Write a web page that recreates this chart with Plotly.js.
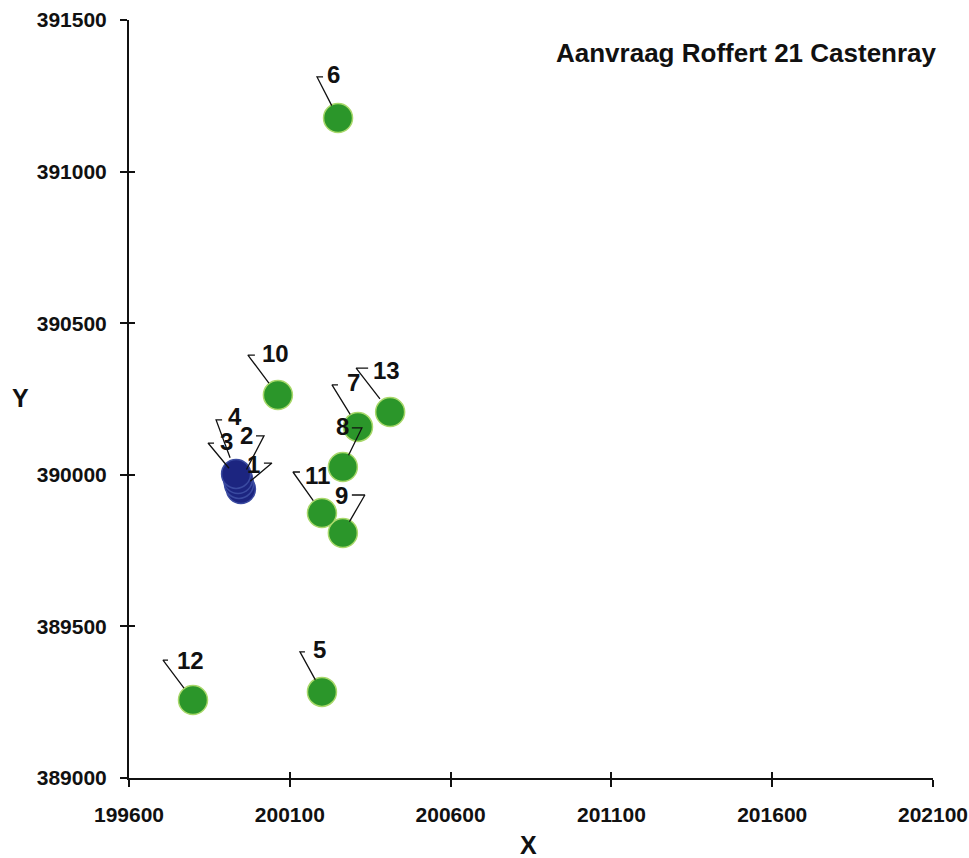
<!DOCTYPE html>
<html>
<head>
<meta charset="utf-8">
<script src="https://cdn.plot.ly/plotly-3.0.1.min.js"></script>
<style>html,body{margin:0;padding:0;background:#fff}#chart{width:969px;height:858px}</style>
</head>
<body>
<div id="chart"></div>
<script>
// ---- data ----
const pointIds = ['1','2','3','4','5','6','7','8','9','10','11','12','13'];
const xValues = [199948,199942,199939,199933,200200,200250,200312,200265,200265,200063,200200,199799,200412];
const yValues = [389953,389970,389986,390003,389284,391177,390158,390026,389808,390263,389874,389257,390207];
const pointGroup = ['blue','blue','blue','blue','green','green','green','green','green','green','green','green','green'];
const xTickVals = [199600,200100,200600,201100,201600,202100];
const yTickVals = [389000,389500,390000,390500,391000,391500];
const chartTitle = 'Aanvraag Roffert 21 Castenray';

// ---- label placement (pixels relative to point; y down) ----
// [cornerDx, cornerDy, stub, textDx, textDy, anchor]
const labelPlacement = [
  [31,-26,-8, 21,-25,'right'],
  [25,-48,-8, 16,-48,'right'],
  [-30,-36,6, -20,-38,'left'],
  [-20,-54,6, -10,-57,'left'],
  [-22,-40,5, -11,-42,'left'],
  [-21,-41,6, -13,-43,'left'],
  [-26,-42,6, -13,-44,'left'],
  [19,-39,-10, 8,-40,'right'],
  [22,-38,-13, 7,-38,'right'],
  [-30,-40,7, -18,-42,'left'],
  [-29,-41,7, -19,-38,'left'],
  [-30,-40,5, -18,-40,'left'],
  [-34,-44,12, -19,-42,'left']
];

const W = 969, H = 858;
const margin = {l:129, r:36, t:20, b:80};
const xRange = [199600, 202100];
const yRange = [389000, 391500];
const plotW = W - margin.l - margin.r, plotH = H - margin.t - margin.b;
const kx = plotW / (xRange[1]-xRange[0]);
const ky = plotH / (yRange[1]-yRange[0]);

const colors = {green:'#2b962a', blue:'#1c2580'};

// leader lines
const lx = [], ly = [];
pointIds.forEach((id,i)=>{
  const p = labelPlacement[i];
  const cx = xValues[i] + p[0]/kx, cy = yValues[i] - p[1]/ky;
  lx.push(xValues[i] + (p[0]*0.3)/kx, cx, cx + p[2]/kx, null);
  ly.push(yValues[i] - (p[1]*0.3)/ky, cy, cy, null);
});

const traces = [];
['green','blue'].forEach(g=>{
  const idx = pointIds.map((_,i)=>i).filter(i=>pointGroup[i]===g);
  traces.push({
    type:'scatter', mode:'markers', hoverinfo:'skip',
    x: idx.map(i=>xValues[i]), y: idx.map(i=>yValues[i]),
    marker:{size:29, color:colors[g], line:{width:1.5, color: g==='green' ? '#a8d86a' : '#3a4aa0'}},
    showlegend:false
  });
});
traces.push({type:'scatter', mode:'lines', x:lx, y:ly, line:{color:'#111', width:1.3}, hoverinfo:'skip', showlegend:false, connectgaps:false});
traces.push({type:'scatter', mode:'markers', x:[xRange[0]], y:[yRange[0]], xaxis:'x2', yaxis:'y2', marker:{opacity:0}, hoverinfo:'skip', showlegend:false});

const baseFamily = 'Liberation Sans, Arial, sans-serif';
const labelFont = {family:baseFamily, size:24, color:'#111', weight:'bold'};
const annotations = pointIds.map((id,i)=>{
  const p = labelPlacement[i];
  return {x:xValues[i], y:yValues[i], xref:'x', yref:'y', text:id, showarrow:false,
    xshift:p[3], yshift:-p[4], xanchor:p[5], yanchor:'middle', font:labelFont};
});
annotations.push({xref:'paper', yref:'paper', x:1, y:1-(53-margin.t)/plotH, xshift:6, xanchor:'right', yanchor:'middle',
  text:chartTitle, showarrow:false, font:{family:baseFamily, size:26, color:'#111', weight:'bold'}});
annotations.push({xref:'paper', yref:'paper', x:(528-margin.l)/plotW, y:-(845-778)/plotH, xanchor:'center', yanchor:'middle',
  text:'X', showarrow:false, font:{family:baseFamily, size:25, color:'#111', weight:'bold'}});
annotations.push({xref:'paper', yref:'paper', x:(20-margin.l)/plotW, y:1-(398-margin.t)/plotH, xanchor:'center', yanchor:'middle',
  text:'Y', showarrow:false, font:{family:baseFamily, size:25, color:'#111', weight:'bold'}});

const tickFont = {family:baseFamily, size:21, color:'#111', weight:'bold'};
const layout = {
  width:W, height:H, margin:margin, paper_bgcolor:'#fff', plot_bgcolor:'#fff',
  xaxis:{range:xRange, tickvals:xTickVals, ticktext:xTickVals.map(String), showgrid:false, zeroline:false,
    showline:true, linecolor:'#111', linewidth:2, ticks:'outside', ticklen:7, tickwidth:2, tickcolor:'#111',
    tickfont:tickFont, ticklabelstandoff:10, fixedrange:true},
  yaxis:{range:yRange, tickvals:yTickVals, ticktext:yTickVals.map(String), showgrid:false, zeroline:false,
    showline:true, linecolor:'#111', linewidth:2, ticks:'outside', ticklen:7, tickwidth:2, tickcolor:'#111',
    tickfont:tickFont, ticklabelstandoff:9, fixedrange:true},
  xaxis2:{overlaying:'x', anchor:'y2', range:xRange, tickvals:xTickVals, showticklabels:false, showgrid:false, zeroline:false,
    showline:false, ticks:'inside', ticklen:6, tickwidth:2, tickcolor:'#111', fixedrange:true},
  yaxis2:{overlaying:'y', anchor:'x2', range:yRange, tickvals:yTickVals, showticklabels:false, showgrid:false, zeroline:false,
    showline:false, ticks:'inside', ticklen:6, tickwidth:2, tickcolor:'#111', fixedrange:true},
  annotations:annotations, showlegend:false
};
Plotly.newPlot('chart', traces, layout, {displayModeBar:false, staticPlot:true});
</script>
</body>
</html>
